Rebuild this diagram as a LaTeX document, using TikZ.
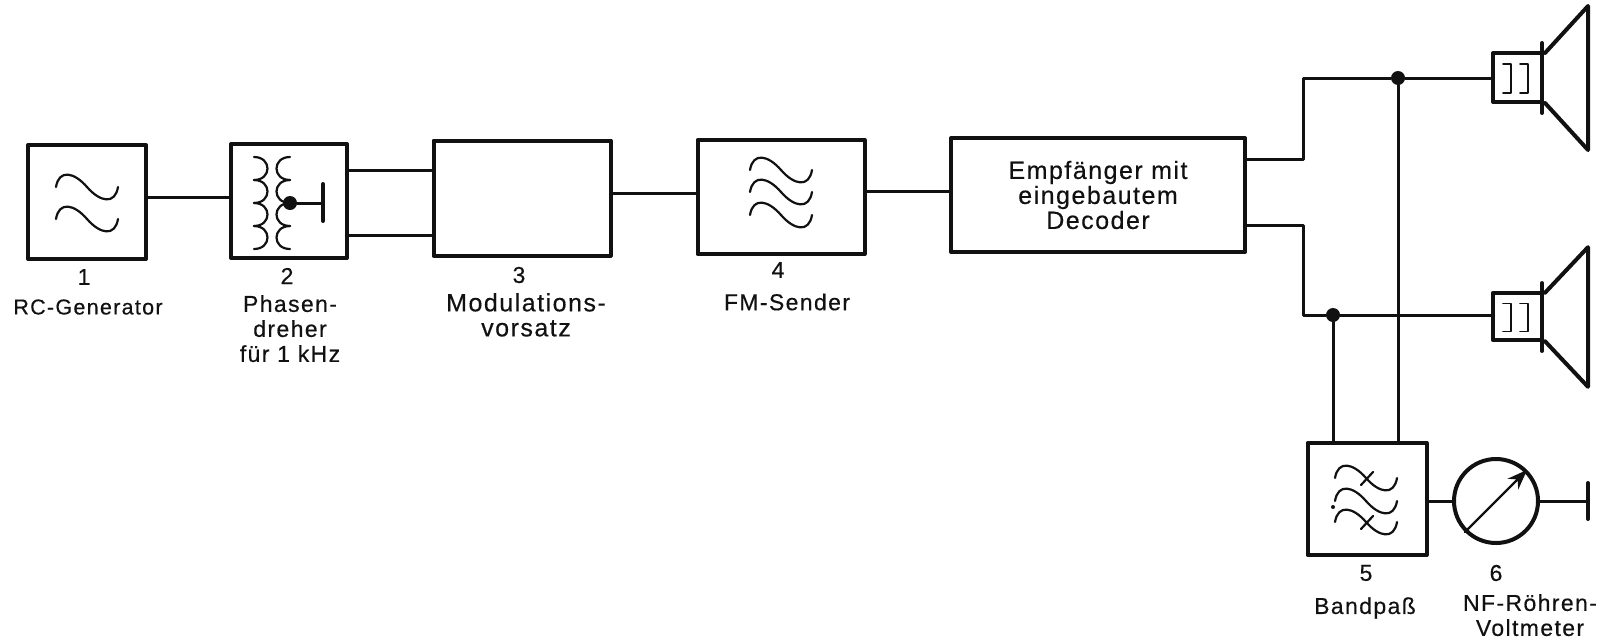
\documentclass[tikz,border=0pt]{standalone}
\usepackage{fontspec}
\setsansfont{Liberation Sans}[LetterSpace=6,FakeBold=0.4]
\usetikzlibrary{arrows.meta,positioning,calc}
\definecolor{ink}{HTML}{111111}

\begin{document}
\begin{tikzpicture}[
  x=1pt, y=-1pt, font=\sffamily\fontsize{23}{26}\selectfont, text=ink,
  line cap=round, line join=round,
  blk/.style={draw=ink, line width=4pt, inner sep=0pt, align=center},
  wire/.style={draw=ink, line width=3pt},
  fine/.style={draw=ink, line width=2.2pt},
  jn/.style={circle, fill=ink, inner sep=0pt, minimum size=14pt},
  lab/.style={inner sep=0pt, align=center},
  big/.style={font=\sffamily\fontsize{25}{26}\selectfont},
  tilde/.pic={\draw[fine] (-31,0) .. controls (-28,-18) and (-13,-15) .. (0,0)
     .. controls (13,15) and (28,18) .. (31,0);},
  spk/.pic={
     \draw[draw=ink, line width=4pt] (-49,-25) rectangle (0,24);
     \draw[draw=ink, line width=4pt] (0,-35) -- (0,35);
     \draw[draw=ink, line width=4pt] (3,-25) -- (46,-72) -- (46,72) -- (3,25);
     \draw[draw=ink, line width=1.8pt] (-39,-14) -- (-31,-14) -- (-31,15) -- (-39,15);
     \draw[draw=ink, line width=1.8pt] (-22,-14) -- (-14,-14) -- (-14,15) -- (-22,15);}]
\useasboundingbox (0,0) rectangle (1619,643);

\node[blk, minimum width=118pt, minimum height=114pt] (gen) at (87,202) {};
\node[blk, minimum width=116pt, minimum height=114pt] (phase) at (289,201) {};
\node[blk, minimum width=177pt, minimum height=115pt] (mod) at (522,198) {};
\node[blk, minimum width=167pt, minimum height=114pt] (fm) at (781,197) {};
\node[blk, big, minimum width=294pt, minimum height=114pt] (rx) at (1098,195)
  {Empfänger mit\\[-1pt] eingebautem\\[-1pt] Decoder};
\node[blk, minimum width=119pt, minimum height=112pt] (bp) at (1367,499) {};
\node[blk, circle, minimum size=84pt] (meter) at (1496,501) {};

% waves inside the blocks
\pic at (87,187) {tilde};
\pic at (87,219) {tilde};
\pic at (781,170) {tilde};
\pic at (781,192) {tilde};
\pic at (781,215) {tilde};
\pic at (1366,478) {tilde};
\pic at (1366,501) {tilde};
\pic at (1366,522) {tilde};
\draw[fine] (1361,485) -- (1373,472);
\draw[fine] (1361,529) -- (1373,516);
\fill[ink] (1333,507) circle (2pt);

% transformer
\foreach \yy in {157,180,203,226} {
  \draw[fine] (254,\yy) .. controls (272,\yy) and (272,\yy+23) .. (254,\yy+23);
  \draw[fine] (290,\yy) .. controls (272,\yy) and (272,\yy+23) .. (290,\yy+23);
}
\node[jn] (tap) at (290,203) {};
\coordinate (earth1) at (323,203);
\draw[wire] (tap) -- (earth1);
\draw[draw=ink, line width=4pt] ($(earth1)+(0,-19)$) -- ($(earth1)+(0,18)$);

% loudspeakers
\pic at (1542,78) {spk};
\pic[yscale=0.97] at (1542,317) {spk};
\coordinate (sp1) at (1493,78);
\coordinate (sp2) at (1493,315);

\coordinate (up) at (1303,78);
\coordinate (lo) at (1303,315);
\node[jn] (d1) at (1398,78) {};
\node[jn] (d2) at (1333,315) {};

\draw[wire] (gen.east |- 0,197) -- (phase.west |- 0,197);
\draw[wire] (phase.east |- 0,170) -- (mod.west |- 0,170);
\draw[wire] (phase.east |- 0,235) -- (mod.west |- 0,235);
\draw[wire] (mod.east |- 0,193) -- (fm.west |- 0,193);
\draw[wire] (fm.east |- 0,191) -- (rx.west |- 0,191);
\draw[wire] (rx.east |- 0,159) -| (up) -- (d1) -- (sp1);
\draw[wire] (rx.east |- 0,225) -| (lo) -- (d2) -- (sp2);
\draw[wire] (d1) -- (d1 |- bp.north);
\draw[wire] (d2) -- (d2 |- bp.north);
\draw[wire] (bp.east |- meter.west) -- (meter.west);

\coordinate (earth2) at (1588,501);
\draw[wire] (meter.east) -- (earth2);
\draw[draw=ink, line width=4pt] ($(earth2)+(0,-18)$) -- ($(earth2)+(0,18)$);
\draw[fine, -{Stealth[length=20pt, width=15pt]}] (meter.225) -- (meter.45);

% labels
\node[lab] (n1) at (84,277) {1};
\node[lab, font=\sffamily\fontsize{21.5}{26}\selectfont] (t1) at (88,307) {RC-Generator};
\node[lab] (n2) at (287,276) {2};
\node[lab, anchor=north] (t2) at (290,295) {Phasen-\\[-1pt] dreher\\[-1pt] für 1 kHz};
\node[lab] (n3) at (519,275) {3};
\node[lab, big, anchor=north] (t3) at (526,293) {Modulations-\\[-1pt] vorsatz};
\node[lab] (n4) at (778,270) {4};
\node[lab] (t4) at (787,302) {FM-Sender};
\node[lab] (n5) at (1366,573) {5};
\node[lab] (t5) at (1365,608) {Bandpaß};
\node[lab] (n6) at (1496,573) {6};
\node[lab, anchor=north] (t6) at (1530,594) {NF-Röhren-\\[-1pt] Voltmeter};
\end{tikzpicture}
\end{document}
